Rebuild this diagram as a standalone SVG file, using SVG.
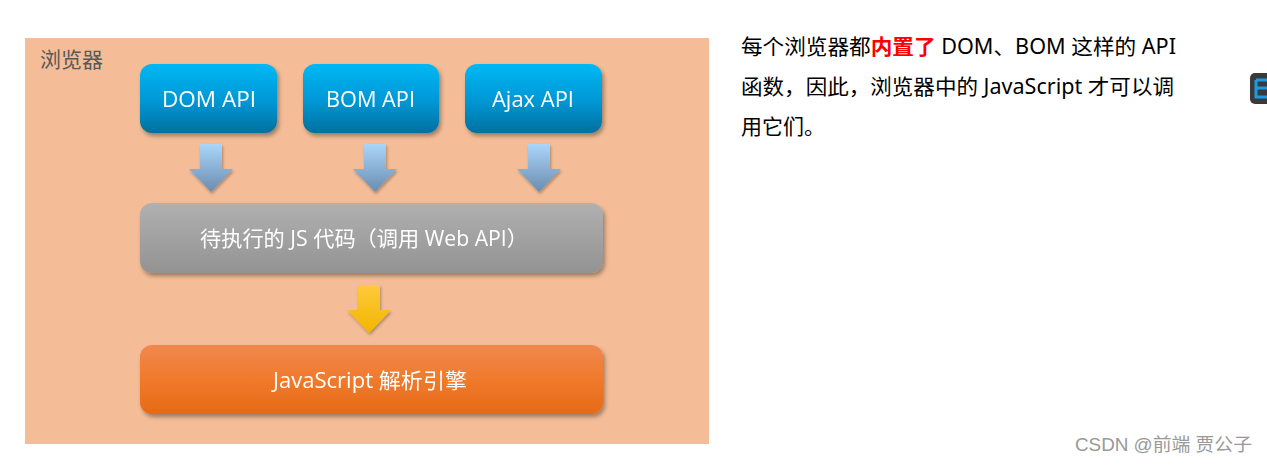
<svg xmlns="http://www.w3.org/2000/svg" width="1267" height="466" viewBox="0 0 1267 466">
<style>
.lbl{font-family:"Open Sans","Noto Sans CJK SC",sans-serif;fill:#fff;text-anchor:middle;dominant-baseline:central}
.cjk{font-family:"Noto Sans","Noto Sans CJK SC",sans-serif}
.para{font-family:"Noto Sans","Noto Sans CJK SC",sans-serif;font-size:21px;fill:#000}
</style>
<defs>
<linearGradient id="gBlue" x1="0" y1="0" x2="0" y2="1"><stop offset="0" stop-color="#00B8F4"/><stop offset="0.55" stop-color="#0096D4"/><stop offset="1" stop-color="#00709E"/></linearGradient>
<linearGradient id="gGray" x1="0" y1="0" x2="0" y2="1"><stop offset="0" stop-color="#B0B0B0"/><stop offset="1" stop-color="#939393"/></linearGradient>
<linearGradient id="gOrange" x1="0" y1="0" x2="0" y2="1"><stop offset="0" stop-color="#F0884E"/><stop offset="0.5" stop-color="#F07A2C"/><stop offset="1" stop-color="#E66A16"/></linearGradient>
<linearGradient id="gArrow" x1="0" y1="0" x2="0" y2="1"><stop offset="0" stop-color="#AAD6FA"/><stop offset="1" stop-color="#6A8CB0"/></linearGradient>
<linearGradient id="gYellow" x1="0" y1="0" x2="0" y2="1"><stop offset="0" stop-color="#FFC93C"/><stop offset="1" stop-color="#F2B600"/></linearGradient>
<filter id="sh" x="-10%" y="-20%" width="125%" height="150%"><feDropShadow dx="2" dy="3" stdDeviation="2.2" flood-color="#000" flood-opacity="0.35"/></filter>
<filter id="ash" x="-30%" y="-20%" width="160%" height="150%"><feDropShadow dx="1" dy="2" stdDeviation="1.5" flood-color="#000" flood-opacity="0.3"/></filter>
<path id="arr" d="M-11 0 H11 V25 H22 L0 48 L-22 25 H-11 Z"/>
</defs>
<rect width="1267" height="466" fill="#fff"/>
<g id="browser">
<rect x="25" y="38" width="684" height="406" fill="#F4BD97"/>
<text x="40" y="67" class="cjk" font-size="21" fill="#595959">浏览器</text>
</g>
<g id="dom" filter="url(#sh)">
<rect x="140" y="64" width="137" height="69" rx="12" fill="url(#gBlue)"/>
<text x="209" y="98.5" class="lbl" font-size="22.5" textLength="94" lengthAdjust="spacingAndGlyphs">DOM API</text>
</g>
<g id="bom" filter="url(#sh)">
<rect x="303" y="64" width="136" height="69" rx="12" fill="url(#gBlue)"/>
<text x="370.5" y="98.5" class="lbl" font-size="22.5" textLength="89" lengthAdjust="spacingAndGlyphs">BOM API</text>
</g>
<g id="ajax" filter="url(#sh)">
<rect x="465" y="64" width="137" height="69" rx="12" fill="url(#gBlue)"/>
<text x="533" y="98.5" class="lbl" font-size="22.5" textLength="82" lengthAdjust="spacingAndGlyphs">Ajax API</text>
</g>
<g id="jscode" filter="url(#sh)">
<rect x="140" y="203" width="463" height="70" rx="12" fill="url(#gGray)"/>
<text x="364" y="238" class="lbl" font-size="21" textLength="328" lengthAdjust="spacingAndGlyphs">待执行的 JS 代码（调用 Web API）</text>
</g>
<g id="engine" filter="url(#sh)">
<rect x="140" y="345" width="463" height="69" rx="12" fill="url(#gOrange)"/>
<text x="370" y="380" class="lbl" font-size="21" textLength="194" lengthAdjust="spacingAndGlyphs">JavaScript 解析引擎</text>
</g>
<g id="connectors">
<use href="#arr" x="211" y="144" fill="url(#gArrow)" filter="url(#ash)"/>
<use href="#arr" x="375" y="144" fill="url(#gArrow)" filter="url(#ash)"/>
<use href="#arr" x="539" y="144" fill="url(#gArrow)" filter="url(#ash)"/>
<use href="#arr" x="369" y="285" fill="url(#gYellow)" filter="url(#ash)"/>
</g>
<g id="note">
<text x="741" y="54" class="para" textLength="435" lengthAdjust="spacingAndGlyphs">每个浏览器都<tspan fill="#FF0000" font-weight="bold">内置了</tspan> DOM、BOM 这样的 API</text>
<text x="741" y="94" class="para" textLength="433" lengthAdjust="spacingAndGlyphs">函数，因此，浏览器中的 JavaScript 才可以调</text>
<text x="741" y="134" class="para">用它们。</text>
</g>
<g id="icon">
<rect x="1250" y="73" width="30" height="31" rx="5" fill="#3A3A3A"/>
<path d="M1256 80 H1267 M1256 80 V97 H1267 M1256 88 H1267" stroke="#1E9BE0" stroke-width="3" fill="none"/>
</g>
<text x="1075" y="451" font-family="Liberation Sans,'Noto Sans CJK SC',sans-serif" font-size="18" fill="#999" textLength="177" lengthAdjust="spacingAndGlyphs">CSDN @前端 贾公子</text>
</svg>
